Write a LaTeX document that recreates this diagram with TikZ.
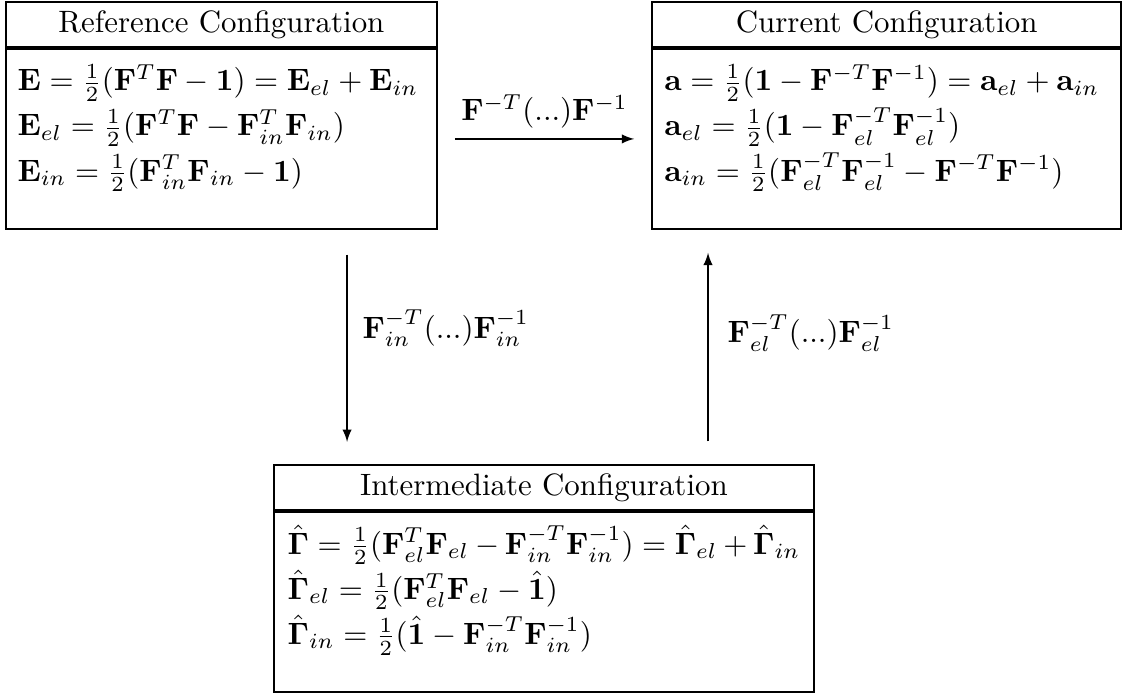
\documentclass[tikz,border=0pt]{standalone}
\usepackage{amsmath}
\usepackage{amssymb}
\usepackage{bm}
\usetikzlibrary{arrows}
\usetikzlibrary{positioning}
\newcommand{\bodysize}{\fontsize{10}{14.6}\selectfont\relpenalty=10000\binoppenalty=10000\relax}
\newcommand{\lnstr}{\rule[-4pt]{0pt}{13.6pt}}
\newcommand{\topstr}{\rule{0pt}{13.6pt}}
\newcommand{\botstr}{\rule[-15.5pt]{0pt}{15.5pt}\par}
\tikzset{
 head/.style={draw,line width=0.6pt,minimum width=#1,minimum height=14.6pt,inner sep=0pt,align=center},
 body/.style={draw,line width=0.6pt,text width=#1,inner ysep=0pt,align=left},
}

\begin{document}
\begin{tikzpicture}
\useasboundingbox (0,0) rectangle (363.7pt,-224.3pt);
\coordinate (dn) at (112.3pt,0);
\coordinate (up) at (229.1pt,0);
% reference configuration
\node [head=139.5pt,anchor=north west] (R0) at (1.6pt,-0.3pt) {Reference Configuration};
 \node [body=131.9pt,inner xsep=3.8pt,below=0pt of R0] (R1) {\bodysize\topstr\lnstr$\mathbf{E}=\frac{1}{2}(\mathbf{F}^T\mathbf{F}-\mathbf{1})=\mathbf{E}_{el}+\mathbf{E}_{in}$\\
\lnstr$\mathbf{E}_{el}=\frac{1}{2}(\mathbf{F}^T\mathbf{F}-\mathbf{F}_{in}^T\mathbf{F}_{in})$\\
\lnstr$\mathbf{E}_{in}=\frac{1}{2}(\mathbf{F}_{in}^T\mathbf{F}_{in}-\mathbf{1})$\botstr};
% current configuration
\node [head=151.8pt,anchor=north west] (C0) at (210.7pt,-0.3pt) {Current Configuration};
 \node [body=143.8pt,inner xsep=4pt,below=0pt of C0] (C1) {\bodysize\topstr\lnstr$\mathbf{a}=\frac{1}{2}(\mathbf{1}-\mathbf{F}^{-T}\mathbf{F}^{-1})=\mathbf{a}_{el}+\mathbf{a}_{in}$\\
\lnstr$\mathbf{a}_{el}=\frac{1}{2}(\mathbf{1}-\mathbf{F}_{el}^{-T}\mathbf{F}_{el}^{-1})$\\
\lnstr$\mathbf{a}_{in}=\frac{1}{2}(\mathbf{F}_{el}^{-T}\mathbf{F}_{el}^{-1}-\mathbf{F}^{-T}\mathbf{F}^{-1})$\botstr};
% intermediate configuration
\node [head=174.8pt,anchor=north west] (I0) at (88.3pt,-150.2pt) {Intermediate Configuration};
 \node [body=165.8pt,inner xsep=4.5pt,below=0pt of I0] (I1) {\bodysize\topstr\lnstr$\hat{\mathbf{\Gamma}}=\frac{1}{2}(\mathbf{F}_{el}^T\mathbf{F}_{el}-\mathbf{F}_{in}^{-T}\mathbf{F}_{in}^{-1})=\hat{\mathbf{\Gamma}}_{el}+\hat{\mathbf{\Gamma}}_{in}$\\
\lnstr$\hat{\mathbf{\Gamma}}_{el}=\frac{1}{2}(\mathbf{F}_{el}^T\mathbf{F}_{el}-\hat{\mathbf{1}})$\\
\lnstr$\hat{\mathbf{\Gamma}}_{in}=\frac{1}{2}(\hat{\mathbf{1}}-\mathbf{F}_{in}^{-T}\mathbf{F}_{in}^{-1})$\botstr};
 \draw [-latex,shorten <=5.5pt,shorten >=5.5pt] (R1) -- (C1) node [midway,above] {$\mathbf{F}^{-T}(...)\mathbf{F}^{-1}$};
 \draw [-latex,shorten <=8pt,shorten >=7.2pt] (R1.south -| dn) -- (I0.north -| dn) node [pos=.42,right=1.5pt] {$\mathbf{F}_{in}^{-T}(...)\mathbf{F}_{in}^{-1}$};
 \draw [-latex,shorten <=7.4pt,shorten >=7.4pt] (I0.north -| up) -- (C1.south -| up) node [pos=.56,right=2.8pt] {$\mathbf{F}_{el}^{-T}(...)\mathbf{F}_{el}^{-1}$};
\end{tikzpicture}
\end{document}
